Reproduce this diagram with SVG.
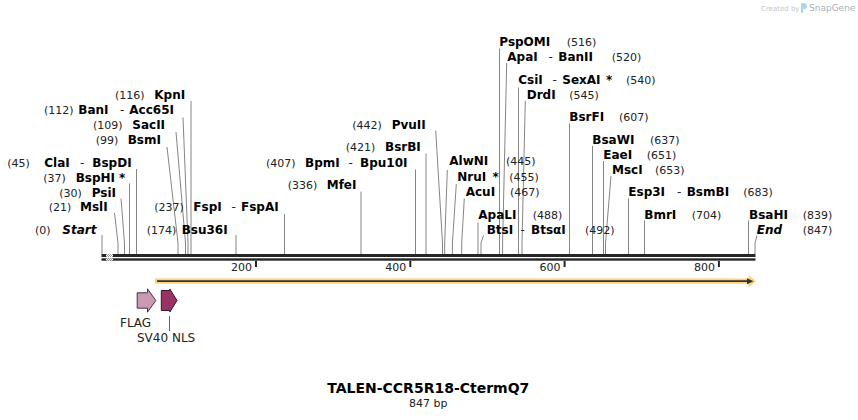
<svg xmlns="http://www.w3.org/2000/svg" width="858" height="420" viewBox="0 0 858 420">
<defs>
<style>
.n{font-family:"DejaVu Sans",Verdana,sans-serif;font-size:12px;font-weight:bold;fill:#000}
.ni{font-family:"DejaVu Sans",Verdana,sans-serif;font-size:12px;font-weight:bold;font-style:italic;fill:#000}
.p{font-family:"DejaVu Sans",Verdana,sans-serif;font-size:11px;fill:#222}
.d{font-family:"DejaVu Sans",Verdana,sans-serif;font-size:12px;fill:#222}
.ld{stroke:#858585;stroke-width:1;fill:none}
.tk{font-family:"DejaVu Sans",Verdana,sans-serif;font-size:11px;fill:#222;text-anchor:end}
.ft{font-family:"DejaVu Sans",Verdana,sans-serif;font-size:12px;fill:#222}
</style>
<pattern id="chk" x="0" y="0" width="2" height="2" patternUnits="userSpaceOnUse">
<rect width="2" height="2" fill="#fff"/>
<rect width="1" height="1" fill="#999"/>
<rect x="1" y="1" width="1" height="1" fill="#999"/>
</pattern>
</defs>
<rect width="858" height="420" fill="#fff"/>

<g id="watermark">
<text x="761" y="10.5" style="font-family:'DejaVu Sans',sans-serif;font-size:7px;fill:#c4c4c4">Created by</text>
<path d="M801 3 h3 a3 3 0 0 1 0 6 h-1 v4 h-2 z" fill="#a8d8f2"/>
<text x="809" y="11" style="font-family:'DejaVu Sans',sans-serif;font-size:9px;fill:#a9b0b8">SnapGene</text>
</g>

<g id="connectors">
<polyline class="ld" points="102,235 102,254"/>
<polyline class="ld" points="114.5,213 118,243 118,254"/>
<polyline class="ld" points="121,198.5 124.5,243 124.5,254"/>
<polyline class="ld" points="129.5,183.5 129.5,254"/>
<polyline class="ld" points="136.5,169 136.5,254"/>
<polyline class="ld" points="167,147 178,243 178,254"/>
<polyline class="ld" points="176,132 185.5,243 185.5,254"/>
<polyline class="ld" points="183,117.5 188,243 188,254"/>
<polyline class="ld" points="191,101 191,254"/>
<polyline class="ld" points="236,235 236,254"/>
<polyline class="ld" points="284.5,214 284.5,254"/>
<polyline class="ld" points="361,191.5 361,254"/>
<polyline class="ld" points="415.5,169.5 415.5,254"/>
<polyline class="ld" points="426,153.5 426,254"/>
<polyline class="ld" points="435.7,130.5 442.5,243 442.5,254"/>
<polyline class="ld" points="447.3,170 444.7,243 444.7,254"/>
<polyline class="ld" points="456.3,184 452.4,243 452.4,254"/>
<polyline class="ld" points="464.3,198.5 461.7,243 461.7,254"/>
<polyline class="ld" points="478,222.5 478,254"/>
<polyline class="ld" points="483.5,235.5 481,243 481,254"/>
<polyline class="ld" points="499.5,48.5 499.5,254"/>
<polyline class="ld" points="506.7,63 502.6,243 502.6,254"/>
<polyline class="ld" points="518.5,87.5 518.5,254"/>
<polyline class="ld" points="525.3,101 522,243 522,254"/>
<polyline class="ld" points="569.5,123.5 569.5,254"/>
<polyline class="ld" points="592.5,146 592.5,254"/>
<polyline class="ld" points="603.5,161 603.5,254"/>
<polyline class="ld" points="611,175.7 605.5,243 605.5,254"/>
<polyline class="ld" points="628.5,198.5 628.5,254"/>
<polyline class="ld" points="644.5,220.5 644.5,254"/>
<polyline class="ld" points="748.5,220.5 748.5,254"/>
<polyline class="ld" points="757,235.5 755,243 755,254"/>
<line x1="169.5" y1="316" x2="169.5" y2="331" stroke="#666" stroke-width="1"/>
</g>

<g id="sites-left">
<g id="site-Start"><text class="p" x="35" y="233.5">(0)</text><text class="ni" x="62.3" y="233.5">Start</text></g>
<g id="site-MslI"><text class="p" x="48.7" y="211.3">(21)</text><text class="n" x="80" y="211.3">MslI</text></g>
<g id="site-PsiI"><text class="p" x="59.3" y="196.5">(30)</text><text class="n" x="91.7" y="196.5">PsiI</text></g>
<g id="site-BspHI"><text class="p" x="43.3" y="181.5">(37)</text><text class="n" x="75.7" y="181.5">BspHI</text><text class="n" x="119" y="181.5">*</text></g>
<g id="site-ClaI"><text class="p" x="7.3" y="167">(45)</text><text class="n" x="44.3" y="167">ClaI</text><text class="d" x="80" y="167">-</text><text class="n" x="92.3" y="167">BspDI</text></g>
<g id="site-BsmI"><text class="p" x="95.7" y="143.5">(99)</text><text class="n" x="127.7" y="143.5">BsmI</text></g>
<g id="site-SacII"><text class="p" x="93" y="128.8">(109)</text><text class="n" x="132.3" y="128.8">SacII</text></g>
<g id="site-BanI"><text class="p" x="44" y="114">(112)</text><text class="n" x="78.3" y="114">BanI</text><text class="d" x="120" y="114">-</text><text class="n" x="129.3" y="114">Acc65I</text></g>
<g id="site-KpnI"><text class="p" x="115" y="99.3">(116)</text><text class="n" x="154.3" y="99.3">KpnI</text></g>
<g id="site-Bsu36I"><text class="p" x="146.7" y="233.5">(174)</text><text class="n" x="181.7" y="233.5">Bsu36I</text></g>
<g id="site-FspI"><text class="p" x="154.3" y="211.3">(237)</text><text class="n" x="193.3" y="211.3">FspI</text><text class="d" x="231.5" y="211.3">-</text><text class="n" x="241" y="211.3">FspAI</text></g>
<g id="site-MfeI"><text class="p" x="287.7" y="188.5">(336)</text><text class="n" x="326.7" y="188.5">MfeI</text></g>
<g id="site-BpmI"><text class="p" x="266" y="166.7">(407)</text><text class="n" x="305" y="166.7">BpmI</text><text class="d" x="348.5" y="166.7">-</text><text class="n" x="360" y="166.7">Bpu10I</text></g>
<g id="site-BsrBI"><text class="p" x="345.7" y="150.7">(421)</text><text class="n" x="385" y="150.7">BsrBI</text></g>
<g id="site-PvuII"><text class="p" x="352.3" y="129.3">(442)</text><text class="n" x="391.7" y="129.3">PvuII</text></g>
</g>

<g id="sites-right">
<g id="site-AlwNI"><text class="n" x="449.3" y="165.3">AlwNI</text><text class="p" x="506" y="165.3">(445)</text></g>
<g id="site-NruI"><text class="n" x="457.3" y="180.7">NruI</text><text class="n" x="492.5" y="180.7">*</text><text class="p" x="509.3" y="180.7">(455)</text></g>
<g id="site-AcuI"><text class="n" x="465.7" y="196">AcuI</text><text class="p" x="510" y="196">(467)</text></g>
<g id="site-ApaLI"><text class="n" x="478.3" y="218.5">ApaLI</text><text class="p" x="532.7" y="218.5">(488)</text></g>
<g id="site-BtsI"><text class="n" x="486.7" y="233.8">BtsI</text><text class="d" x="520.5" y="233.8">-</text><text class="n" x="531" y="233.8">BtsαI</text><text class="p" x="585" y="233.8">(492)</text></g>
<g id="site-PspOMI"><text class="n" x="499.3" y="46.3">PspOMI</text><text class="p" x="566.7" y="46.3">(516)</text></g>
<g id="site-ApaI"><text class="n" x="507.3" y="60.8">ApaI</text><text class="d" x="548.5" y="60.8">-</text><text class="n" x="558.3" y="60.8">BanII</text><text class="p" x="611.7" y="60.8">(520)</text></g>
<g id="site-CsiI"><text class="n" x="518.3" y="84.2">CsiI</text><text class="d" x="552.5" y="84.2">-</text><text class="n" x="562.3" y="84.2">SexAI</text><text class="n" x="606" y="84.2">*</text><text class="p" x="626" y="84.2">(540)</text></g>
<g id="site-DrdI"><text class="n" x="526.7" y="98.5">DrdI</text><text class="p" x="569.3" y="98.5">(545)</text></g>
<g id="site-BsrFI"><text class="n" x="569.3" y="121">BsrFI</text><text class="p" x="619" y="121">(607)</text></g>
<g id="site-BsaWI"><text class="n" x="592.3" y="143.5">BsaWI</text><text class="p" x="650" y="143.5">(637)</text></g>
<g id="site-EaeI"><text class="n" x="603.3" y="159.3">EaeI</text><text class="p" x="646.7" y="159.3">(651)</text></g>
<g id="site-MscI"><text class="n" x="612" y="173.5">MscI</text><text class="p" x="655" y="173.5">(653)</text></g>
<g id="site-Esp3I"><text class="n" x="628.3" y="196">Esp3I</text><text class="d" x="677" y="196">-</text><text class="n" x="686.7" y="196">BsmBI</text><text class="p" x="743.3" y="196">(683)</text></g>
<g id="site-BmrI"><text class="n" x="644.3" y="218.5">BmrI</text><text class="p" x="691.7" y="218.5">(704)</text></g>
<g id="site-BsaHI"><text class="n" x="749" y="218.5">BsaHI</text><text class="p" x="802.7" y="218.5">(839)</text></g>
<g id="site-End"><text class="ni" x="756.7" y="233.5">End</text><text class="p" x="802.7" y="233.5">(847)</text></g>
</g>

<g id="sequence">
<rect x="101.5" y="254" width="654" height="3" fill="#262626"/>
<rect x="101.5" y="258.3" width="654" height="2.4" fill="#262626"/>
<rect x="106" y="254" width="7" height="3" fill="url(#chk)"/>
<rect x="106" y="258.3" width="7" height="2.4" fill="url(#chk)"/>
</g>

<g id="ruler">
<rect x="255" y="261" width="2" height="6" fill="#262626"/><text class="tk" x="252" y="270.5">200</text>
<rect x="409.3" y="261" width="2" height="6" fill="#262626"/><text class="tk" x="406.3" y="270.5">400</text>
<rect x="563.6" y="261" width="2" height="6" fill="#262626"/><text class="tk" x="560.6" y="270.5">600</text>
<rect x="717.9" y="261" width="2" height="6" fill="#262626"/><text class="tk" x="714.9" y="270.5">800</text>
</g>

<g id="feature-orf">
<path d="M155,278.6 H748.5 V275 L756,281.2 L748.5,287.4 V283.8 H155 Z" fill="#ffd27f"/>
<line x1="157" y1="281.2" x2="749" y2="281.2" stroke="#333" stroke-width="1.8"/>
<path d="M747,278.2 L753.5,281.2 L747,284.2 Z" fill="#333"/>
</g>

<g id="feature-FLAG">
<path d="M137.2,292.8 H147.5 V288.8 L155.8,300.5 L147.5,312.2 V308.2 H137.2 Z" fill="#cc99b3" stroke="#4a3340" stroke-width="1"/>
<text class="ft" x="120" y="327">FLAG</text>
</g>

<g id="feature-SV40NLS">
<path d="M161.3,290.5 H169.8 V289 L177,300.5 L169.8,312 V310.5 H161.3 Z" fill="#993366" stroke="#3a1426" stroke-width="1"/>
<text class="ft" x="137" y="341.7">SV40 NLS</text>
</g>

<g id="title">
<text x="428.3" y="393" text-anchor="middle" style="font-family:'DejaVu Sans',Verdana,sans-serif;font-size:14px;font-weight:bold;fill:#000">TALEN-CCR5R18-CtermQ7</text>
<text x="428.3" y="406.5" text-anchor="middle" style="font-family:'DejaVu Sans',Verdana,sans-serif;font-size:11px;fill:#222">847 bp</text>
</g>
</svg>
